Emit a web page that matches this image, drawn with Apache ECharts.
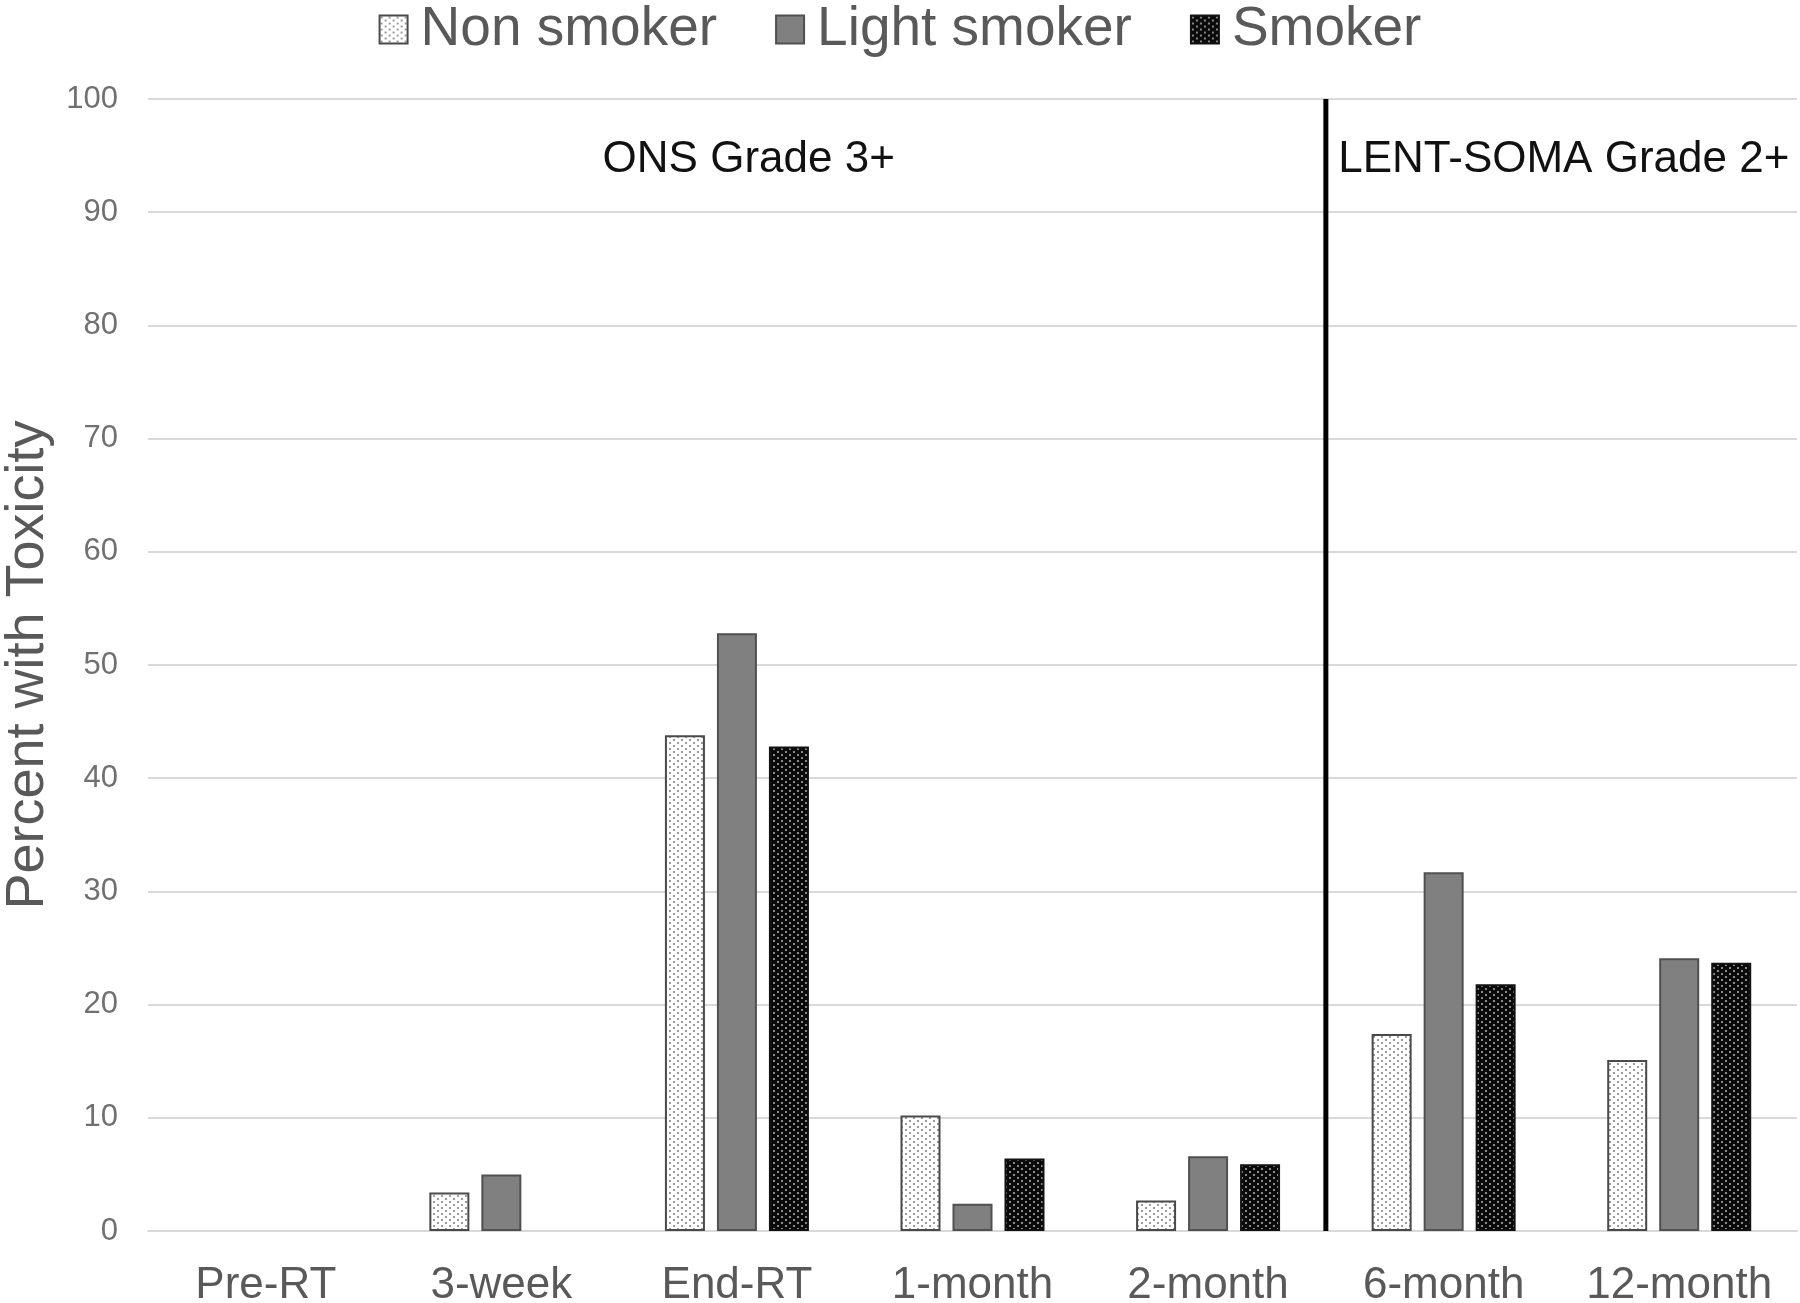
<!DOCTYPE html>
<html>
<head>
<meta charset="utf-8">
<script src="https://cdn.jsdelivr.net/npm/echarts@6/dist/echarts.min.js"></script>
<style>
  html, body { margin: 0; padding: 0; background: #fff; }
  #chart { width: 1800px; height: 1303px; }
</style>
</head>
<body>
<div id="chart"></div>
<script>
const categories = ['Pre-RT', '3-week', 'End-RT', '1-month', '2-month', '6-month', '12-month'];
const nonSmoker = [0, 3.4, 43.8, 10.2, 2.7, 17.4, 15.1];
const lightSmoker = [0, 5.0, 52.8, 2.4, 6.6, 31.7, 24.1];
const smoker = [0, 0, 42.8, 6.4, 5.9, 21.8, 23.7];
const yTicks = [0, 10, 20, 30, 40, 50, 60, 70, 80, 90, 100];
// where the two scoring systems split (in category units) and the group labels
const divider = 5;
const groupLabels = [
  { name: 'ONS Grade 3+', x: 2.55, y: 94.6 },
  { name: 'LENT-SOMA Grade 2+', x: 6.01, y: 94.6 },
];

const font = '"Liberation Sans", Arial, sans-serif';

function dotPattern(bg, dot) {
  const c = document.createElement('canvas');
  c.width = 8;
  c.height = 6;
  const ctx = c.getContext('2d');
  ctx.fillStyle = bg;
  ctx.fillRect(0, 0, 8, 6);
  ctx.fillStyle = dot;
  ctx.fillRect(1, 1, 2, 2);
  ctx.fillRect(5, 4, 2, 2);
  return c;
}

const nonFill = { image: dotPattern('#ffffff', '#9a9a9a'), repeat: 'repeat' };
const smokerFill = { image: dotPattern('#0a0a0a', '#8a8a8a'), repeat: 'repeat' };

const chart = echarts.init(document.getElementById('chart'));

function barSeries(name, data, color, border) {
  return {
    name,
    type: 'bar',
    // zero-height bars get no outline, like the original
    data: data.map((v) => (v === 0 ? { value: v, itemStyle: { borderWidth: 0 } } : v)),
    barWidth: 40,
    barGap: '30%',
    itemStyle: { color, borderColor: border, borderWidth: 2 },
    emphasis: { disabled: true },
  };
}

chart.setOption({
  animation: false,
  backgroundColor: '#ffffff',
  textStyle: { fontFamily: font },
  legend: {
    data: ['Non smoker', 'Light smoker', 'Smoker'],
    top: -3,
    left: 'center',
    itemWidth: 28,
    itemHeight: 28,
    itemGap: 58,
    icon: 'rect',
    textStyle: {
      fontSize: 55,
      color: '#595959',
      fontFamily: font,
      padding: [0, 0, 0, 8],
    },
  },
  grid: { left: 148, right: 3, top: 99, bottom: 72, outerBoundsMode: 'none' },
  xAxis: [
    {
      type: 'category',
      data: categories,
      axisLine: { lineStyle: { color: '#d9d9d9', width: 2 } },
      axisTick: { show: false },
      axisLabel: { fontSize: 44, color: '#595959', margin: 33, interval: 0 },
    },
    {
      type: 'value',
      min: 0,
      max: categories.length,
      show: false,
    },
  ],
  yAxis: {
    type: 'value',
    min: yTicks[0],
    max: yTicks[yTicks.length - 1],
    interval: 10,
    name: 'Percent with Toxicity',
    nameLocation: 'middle',
    nameGap: 90,
    nameTextStyle: { fontSize: 54, color: '#595959' },
    axisLine: { show: false },
    axisTick: { show: false },
    axisLabel: { fontSize: 31, color: '#707070', margin: 30 },
    splitLine: { lineStyle: { color: '#d9d9d9', width: 2 } },
  },
  series: [
    barSeries('Non smoker', nonSmoker, nonFill, '#4a4a4a'),
    barSeries('Light smoker', lightSmoker, '#808080', '#505050'),
    barSeries('Smoker', smoker, smokerFill, '#111111'),
    {
      name: 'divider',
      type: 'line',
      xAxisIndex: 1,
      data: [[divider, yTicks[0]], [divider, yTicks[yTicks.length - 1]]],
      symbol: 'none',
      lineStyle: { color: '#000000', width: 5 },
      emphasis: { disabled: true },
      markPoint: {
        symbol: 'rect',
        symbolSize: 0,
        label: {
          show: true,
          position: 'inside',
          fontSize: 44,
          color: '#111111',
          fontFamily: font,
          formatter: (p) => p.name,
        },
        data: groupLabels.map((g) => ({ name: g.name, coord: [g.x, g.y] })),
      },
    },
  ],
});
</script>
</body>
</html>
